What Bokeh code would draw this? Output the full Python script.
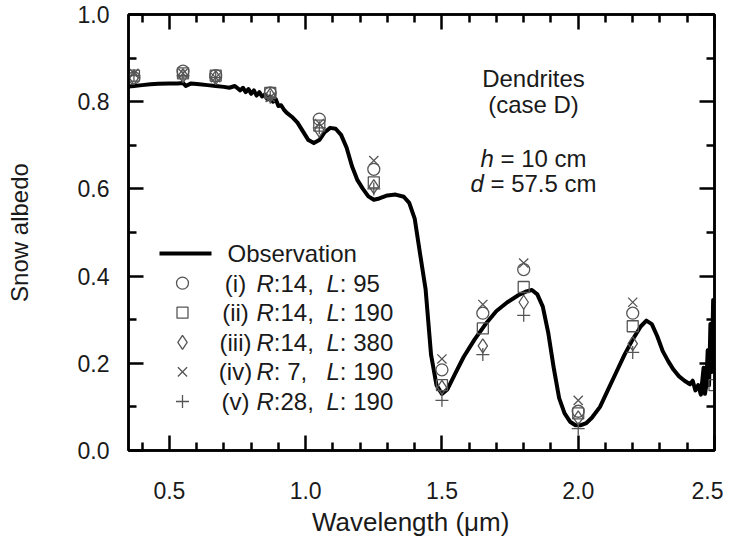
from bokeh.plotting import figure
from bokeh.models import Range1d, LinearAxis, FixedTicker, Label
from bokeh.embed import file_html
from bokeh.resources import INLINE

# ---------------- data ----------------
wavelength_obs = [0.35, 0.37, 0.40, 0.43, 0.46, 0.50, 0.53, 0.55, 0.56, 0.58, 0.61, 0.64, 0.67,
                  0.70, 0.72, 0.74, 0.76, 0.77, 0.78, 0.79, 0.80, 0.81, 0.82, 0.83, 0.84, 0.85,
                  0.86, 0.87, 0.88, 0.89, 0.90, 0.91, 0.92, 0.93, 0.95, 0.97, 0.99, 1.01, 1.03,
                  1.05, 1.07, 1.09, 1.11, 1.13, 1.15, 1.17, 1.19, 1.21, 1.23, 1.25, 1.27, 1.30,
                  1.33, 1.36, 1.38, 1.40, 1.42, 1.44, 1.46, 1.48, 1.50, 1.52, 1.55, 1.58, 1.62,
                  1.66, 1.70, 1.74, 1.78, 1.81, 1.83, 1.85, 1.87, 1.89, 1.91, 1.93, 1.95, 1.97,
                  1.99, 2.01, 2.03, 2.05, 2.08, 2.11, 2.14, 2.17, 2.20, 2.23, 2.25, 2.27, 2.29,
                  2.31, 2.33, 2.35, 2.37, 2.39, 2.41, 2.42, 2.43, 2.44, 2.45, 2.46, 2.465, 2.47,
                  2.475, 2.48, 2.485, 2.49, 2.495, 2.50]
albedo_obs = [0.835, 0.836, 0.838, 0.840, 0.841, 0.842, 0.842, 0.843, 0.836, 0.842, 0.840, 0.838,
              0.836, 0.834, 0.832, 0.836, 0.826, 0.832, 0.822, 0.829, 0.818, 0.826, 0.814, 0.822,
              0.812, 0.816, 0.805, 0.812, 0.800, 0.806, 0.790, 0.792, 0.782, 0.775, 0.765, 0.752,
              0.732, 0.712, 0.705, 0.712, 0.730, 0.740, 0.738, 0.724, 0.695, 0.652, 0.620, 0.600,
              0.583, 0.575, 0.578, 0.585, 0.587, 0.582, 0.568, 0.532, 0.450, 0.370, 0.220, 0.150,
              0.130, 0.140, 0.178, 0.215, 0.255, 0.290, 0.320, 0.340, 0.356, 0.365, 0.368, 0.358,
              0.330, 0.270, 0.190, 0.120, 0.085, 0.066, 0.058, 0.058, 0.063, 0.075, 0.100, 0.140,
              0.180, 0.220, 0.255, 0.285, 0.298, 0.290, 0.262, 0.228, 0.205, 0.185, 0.170, 0.160,
              0.152, 0.160, 0.138, 0.150, 0.128, 0.190, 0.130, 0.150, 0.230, 0.150, 0.290, 0.180,
              0.345, 0.300]

wl_model = [0.37, 0.55, 0.67, 0.87, 1.05, 1.25, 1.50, 1.65, 1.80, 2.00, 2.20, 2.50]
nan = float("nan")
albedo_i = [0.855, 0.870, 0.860, 0.820, 0.760, 0.645, 0.185, 0.315, 0.415, 0.090, 0.315, nan]
albedo_ii = [0.860, 0.865, 0.860, 0.820, 0.745, 0.615, 0.150, 0.280, 0.375, 0.085, 0.285, 0.150]
albedo_iii = [0.855, 0.860, 0.855, 0.815, 0.735, 0.605, 0.145, 0.240, 0.340, 0.075, 0.245, nan]
albedo_iv = [0.865, 0.865, 0.855, 0.810, 0.750, 0.665, 0.210, 0.335, 0.430, 0.115, 0.340, nan]
albedo_v = [0.860, 0.860, 0.855, 0.810, 0.740, 0.600, 0.115, 0.220, 0.310, 0.050, 0.225, nan]

x_major = [0.5, 1.0, 1.5, 2.0, 2.5]
x_minor = [0.4, 0.6, 0.7, 0.8, 0.9, 1.1, 1.2, 1.3, 1.4, 1.6, 1.7, 1.8, 1.9, 2.1, 2.2, 2.3, 2.4]
y_major = [0.0, 0.2, 0.4, 0.6, 0.8, 1.0]
y_minor = [0.1, 0.3, 0.5, 0.7, 0.9]

legend_cases = ["(i)", "(ii)", "(iii)", "(iv)", "(v)"]
legend_R = [":14,", ":14,", ":14,", ":\u00a07,", ":28,"]
legend_L = [":\u00a095", ":\u00a0190", ":\u00a0380", ":\u00a0190", ":\u00a0190"]
legend_markers = ["circle", "square", "diamond", "x", "cross"]

# ---------------- style ----------------
FONT = "Liberation Sans"
TXT = "#1a1a1a"
GRAY = "#555555"
X0, X1, Y0, Y1 = 0.35, 2.5, 0.0, 1.0
# frame position in page pixels (used only to place the hand-drawn legend / notes)
FL, FR, FT, FB = 129, 715, 16, 452
OX, OY = 1, 2   # observed page offset of the canvas
W, H = 723, 540

def px2x(px):
    return X0 + (px - FL) * (X1 - X0) / (FR - FL)

def py2y(py):
    return Y0 + (FB - py) * (Y1 - Y0) / (FB - FT)

p = figure(width=W, height=H, x_range=Range1d(X0, X1), y_range=Range1d(Y0, Y1),
           output_backend="svg", toolbar_location=None,
           min_border_left=FL - OX, min_border_right=W - (FR - OX), min_border_top=FT - OY,
           min_border_bottom=H - (FB - OY))
p.grid.visible = False
p.outline_line_color = "black"
p.outline_line_width = 2.5
p.background_fill_color = "white"
p.border_fill_color = "white"

xt = FixedTicker(ticks=x_major, minor_ticks=x_minor)
yt = FixedTicker(ticks=y_major, minor_ticks=y_minor)

def style_axis(ax, show_labels=True):
    ax.axis_line_width = 2.5
    ax.axis_line_color = "black"
    ax.major_tick_line_width = 2.5
    ax.minor_tick_line_width = 2.5
    ax.major_tick_in = 15
    ax.major_tick_out = 0
    ax.minor_tick_in = 8
    ax.minor_tick_out = 0
    ax.major_label_text_font = FONT
    ax.major_label_text_font_size = "23px"
    ax.major_label_text_color = TXT
    ax.axis_label_text_font = FONT
    ax.axis_label_text_font_size = "24px"
    ax.axis_label_text_font_style = "normal"
    ax.axis_label_text_color = TXT
    if not show_labels:
        ax.major_label_text_font_size = "0px"
        ax.major_label_text_color = None
        ax.major_label_standoff = 0

p.xaxis.ticker = xt
p.yaxis.ticker = yt
p.xaxis.axis_label = "Wavelength (\u03bcm)\u00a0\u00a0\u00a0"
p.yaxis.axis_label = "Snow albedo"
p.xaxis.major_label_overrides = {v: f"{v:.1f}" for v in x_major}
p.yaxis.major_label_overrides = {v: f"{v:.1f}" for v in y_major}
style_axis(p.xaxis[0])
style_axis(p.yaxis[0])
p.xaxis.axis_label_text_font_size = "26px"
p.xaxis.major_label_standoff = 31
p.xaxis.axis_label_standoff = 5
p.yaxis.major_label_standoff = 19
p.yaxis.axis_label_standoff = 42

top = LinearAxis(ticker=xt)
style_axis(top, False)
p.add_layout(top, "above")
right = LinearAxis(ticker=yt)
style_axis(right, False)
p.add_layout(right, "right")

# ---------------- marks ----------------
p.line(wavelength_obs, albedo_obs, line_width=4.0, line_color="black", line_join="round")

series = [albedo_i, albedo_ii, albedo_iii, albedo_iv, albedo_v]
sizes = {"circle": 12, "square": 11, "diamond": 14, "x": 13, "cross": 13}
for vals, mk in zip(series, legend_markers):
    p.scatter(wl_model, vals, marker=mk, size=sizes[mk], fill_color=None,
              line_color=GRAY, line_width=1.3)

# ---------------- legend (hand-drawn) ----------------
LEG_LINE = (160, 212)
ROW0 = 255
ROW_DY = 29.6
MARK_X = 183
CASE_X = 236
R_X = 257
L_X = 327
FS = "24px"
FSPX = 24

p.line([px2x(LEG_LINE[0]), px2x(LEG_LINE[1])], [py2y(ROW0), py2y(ROW0)],
       line_width=4.0, line_color="black")
p.add_layout(Label(x=px2x(228), y=py2y(ROW0), text="Observation", text_font=FONT,
                   text_font_size=FS, text_color=TXT, text_baseline="middle", text_align="left"))

for k, (case, rtxt, ltxt, mk) in enumerate(zip(legend_cases, legend_R, legend_L, legend_markers)):
    yy = py2y(ROW0 + ROW_DY * (k + 1))
    p.scatter([px2x(MARK_X)], [yy], marker=mk, size=sizes[mk], fill_color=None,
              line_color=GRAY, line_width=1.3)
    common = dict(y=yy, text_font=FONT, text_font_size=FS, text_color=TXT,
                  text_baseline="middle")
    p.add_layout(Label(x=px2x(CASE_X), text=case, text_align="center", **common))
    p.add_layout(Label(x=px2x(R_X), text="R", text_align="left",
                       text_font_style="italic", **common))
    p.add_layout(Label(x=px2x(R_X + 0.722 * FSPX), text=rtxt, text_align="left", **common))
    p.add_layout(Label(x=px2x(L_X), text="L", text_align="left",
                       text_font_style="italic", **common))
    p.add_layout(Label(x=px2x(L_X + 0.556 * FSPX), text=ltxt, text_align="left", **common))

# ---------------- annotation ----------------
NOTE_X = 534
for txt, py in [("Dendrites", 80), ("(case D)", 106)]:
    p.add_layout(Label(x=px2x(NOTE_X), y=py2y(py), text=txt, text_font=FONT,
                       text_font_size=FS, text_color=TXT, text_baseline="middle",
                       text_align="center"))
for var, rest, py, w_rest in [("h", "\u00a0=\u00a010 cm", 160, 3.863),
                              ("d", "\u00a0=\u00a057.5 cm", 185, 4.697)]:
    total = (0.556 + w_rest) * FSPX
    x_start = NOTE_X - total / 2
    common = dict(y=py2y(py), text_font=FONT, text_font_size=FS, text_color=TXT,
                  text_baseline="middle", text_align="left")
    p.add_layout(Label(x=px2x(x_start), text=var, text_font_style="italic", **common))
    p.add_layout(Label(x=px2x(x_start + 0.556 * FSPX), text=rest, **common))

open("out.html", "w").write(file_html(p, INLINE))
